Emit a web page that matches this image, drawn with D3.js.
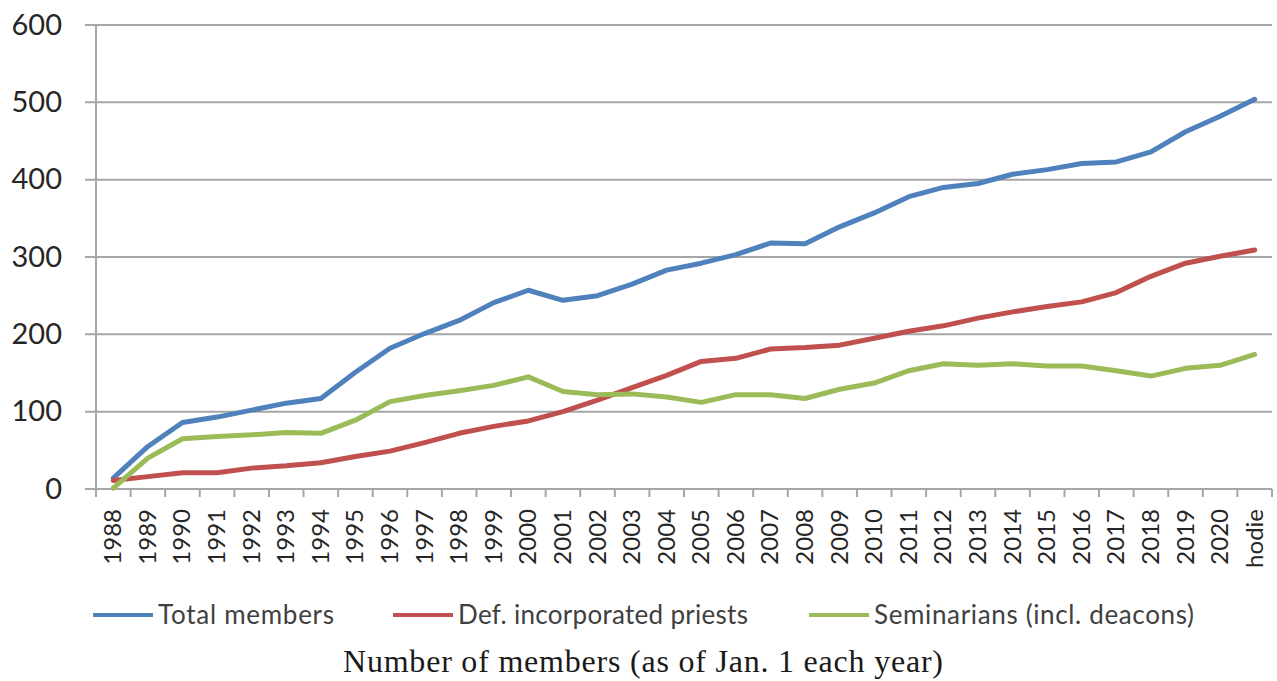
<!DOCTYPE html>
<html>
<head>
<meta charset="utf-8">
<script src="https://cdn.jsdelivr.net/npm/d3@7"></script>
<style>
  html, body { margin: 0; padding: 0; background: #ffffff; }
  svg { display: block; }
</style>
</head>
<body>
<svg id="chart" width="1277" height="681"></svg>
<script>
const categories = ["1988","1989","1990","1991","1992","1993","1994","1995","1996","1997","1998","1999","2000","2001","2002","2003","2004","2005","2006","2007","2008","2009","2010","2011","2012","2013","2014","2015","2016","2017","2018","2019","2020","hodie"];
const totalMembers = [14,55,86,93,102,111,117,151,182,201,218,241,257,244,250,265,283,292,303,318,317,339,357,378,390,395,407,413,421,423,436,462,482,504];
const priests = [11,16,21,21,27,30,34,42,49,60,72,81,88,100,115,131,147,165,169,181,183,186,195,204,211,221,229,236,242,254,275,292,301,309];
const seminarians = [1,40,65,68,70,73,72,89,113,121,127,134,145,126,122,123,119,112,122,122,117,129,137,153,162,160,162,159,159,153,146,156,160,174];
const yTicks = [0,100,200,300,400,500,600];
const seriesNames = ["Total members","Def. incorporated priests","Seminarians (incl. deacons)"];
const seriesColors = ["#4F81BD","#C0504D","#9BBB59"];
const caption = "Number of members (as of Jan. 1 each year)";

(function () {
const series = [totalMembers, priests, seminarians];
const svg = d3.select("#chart");
const pLeft = 96, pRight = 1272, pTop = 25, pBottom = 489;

const x = d3.scaleBand().domain(categories).range([pLeft, pRight]).paddingInner(0).paddingOuter(0);
const y = d3.scaleLinear().domain([0, 600]).range([pBottom, pTop]);
const gridColor = "#a6a6a6";
const sansFont = "Lato, 'Open Sans', sans-serif";

// horizontal gridlines (incl. left tick marks)
svg.append("g").selectAll("line").data(yTicks.filter(d => d > 0)).join("line")
  .attr("x1", pLeft - 11).attr("x2", pRight)
  .attr("y1", d => y(d)).attr("y2", d => y(d))
  .attr("stroke", gridColor).attr("stroke-width", 2);
svg.append("line").attr("x1", pLeft - 11).attr("x2", pLeft).attr("y1", y(0)).attr("y2", y(0))
  .attr("stroke", gridColor).attr("stroke-width", 2);

// y axis
const yAxis = d3.axisLeft(y).tickValues(yTicks).tickSize(0).tickPadding(34).tickFormat(d3.format("d"));
const gy = svg.append("g").attr("transform", `translate(${pLeft},0)`).call(yAxis);
gy.select(".domain").attr("stroke", gridColor).attr("stroke-width", 2).attr("d", `M0,${pTop}V${pBottom + 8}`);
gy.selectAll("text").attr("font-family", sansFont).attr("font-size", 29).attr("fill", "#262626");

// x axis
const xBoundaries = categories.map(c => x(c)).concat([pRight]);
const gx = svg.append("g");
gx.append("line").attr("x1", pLeft).attr("x2", pRight).attr("y1", pBottom).attr("y2", pBottom)
  .attr("stroke", gridColor).attr("stroke-width", 2);
gx.selectAll("line.tk").data(xBoundaries).join("line").attr("class", "tk")
  .attr("x1", d => d).attr("x2", d => d).attr("y1", pBottom).attr("y2", pBottom + 8)
  .attr("stroke", gridColor).attr("stroke-width", 2);
gx.selectAll("text").data(categories).join("text")
  .attr("transform", d => `translate(${x(d) + x.bandwidth() / 2 + 8},${pBottom + 20}) rotate(-90)`)
  .attr("text-anchor", "end")
  .attr("font-family", sansFont).attr("font-size", 24).attr("fill", "#262626")
  .text(d => d);

// lines
const line = d3.line().x((d, i) => x(categories[i]) + x.bandwidth() / 2).y(d => y(d));
svg.append("g").selectAll("path").data(series).join("path")
  .attr("d", d => line(d))
  .attr("fill", "none")
  .attr("stroke", (d, i) => seriesColors[i])
  .attr("stroke-width", 5)
  .attr("stroke-linejoin", "round").attr("stroke-linecap", "round");

// legend
const legendY = 615;
const legendX = [93, 393, 809];
const legendW = [176, 290, 320];
const lg = svg.append("g");
seriesNames.forEach((name, i) => {
  lg.append("line").attr("x1", legendX[i]).attr("x2", legendX[i] + 60)
    .attr("y1", legendY).attr("y2", legendY)
    .attr("stroke", seriesColors[i]).attr("stroke-width", 4);
  lg.append("text").attr("x", legendX[i] + 65).attr("y", legendY + 9)
    .attr("font-family", sansFont).attr("font-size", 26).attr("fill", "#404040")
    .attr("textLength", legendW[i]).attr("lengthAdjust", "spacing")
    .text(name);
});

// caption
svg.append("text").attr("x", 343).attr("y", 672)
  .attr("font-family", "'Liberation Serif', 'DejaVu Serif', serif")
  .attr("font-size", 32).attr("fill", "#1a1a1a")
  .attr("textLength", 600).attr("lengthAdjust", "spacing")
  .text(caption);
})();
</script>
</body>
</html>
